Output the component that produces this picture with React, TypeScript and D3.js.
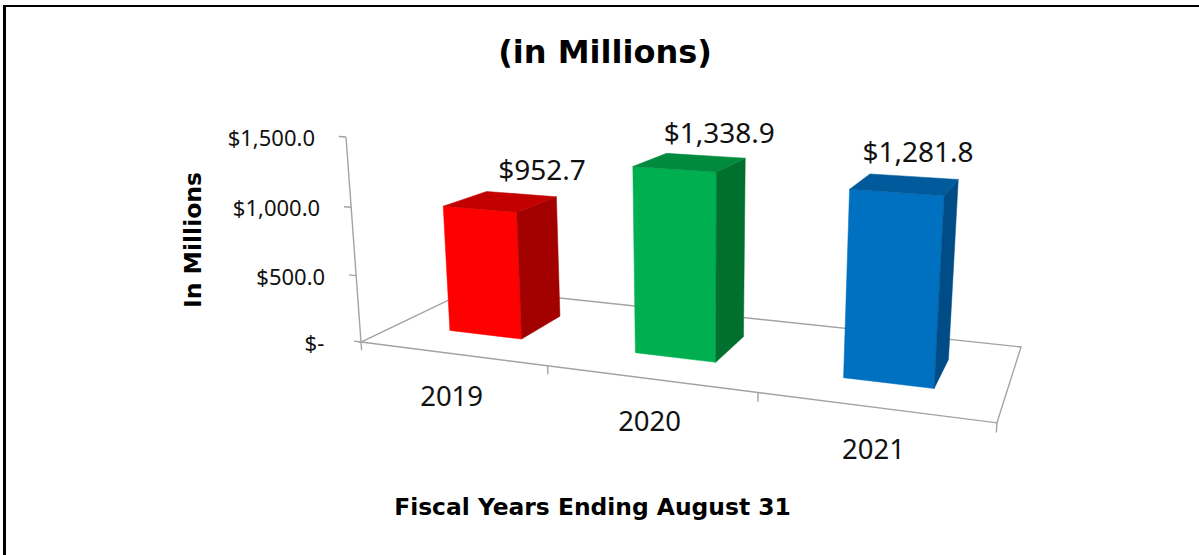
import React from "react";
import * as d3 from "d3";

const categories = ["2019", "2020", "2021"];
const values = [952.7, 1338.9, 1281.8];
const valueTicks = [0, 500, 1000, 1500];

const frontColors = ["#ff0000", "#00b050", "#0070c0"];
const topColors = ["#c20000", "#008a3e", "#005a9c"];
const sideColors = ["#a30000", "#00702f", "#004c86"];

const W = 1199;
const H = 555;
const GRAY = "#a3a3a3";

// perspective camera: image of the origin plus
// the three vanishing points (x = categories, y = value, z = depth)
const origin = [361, 342];
const vpX = [-2763, -55];
const vpY = [698, 4950];
const vpZ = [1141, -31];
const kX = -0.05638;
const kY = -0.0426;
const kZ = 0.1667;

function project(x: number, y: number, z: number): [number, number] {
  const a = kX * x;
  const b = kY * y;
  const c = kZ * z;
  const w = 1 + a + b + c;
  return [
    (a * vpX[0] + b * vpY[0] + c * vpZ[0] + origin[0]) / w,
    (a * vpX[1] + b * vpY[1] + c * vpZ[1] + origin[1]) / w,
  ];
}

const poly = (pts: [number, number][]) =>
  pts.map((p) => `${p[0].toFixed(2)},${p[1].toFixed(2)}`).join(" ");

const fmtMoney = (v: number) => (v === 0 ? "$- " : "$" + d3.format(",.1f")(v));

export default function App() {
  const n = categories.length;
  const xBand = d3
    .scaleBand<string>()
    .domain(categories)
    .range([0, n])
    .paddingInner(0.6)
    .paddingOuter(0.3);
  const yScale = d3.scaleLinear().domain([0, 1500]).range([0, 1]);
  const zFront = 0.3;
  const zBack = 0.7;

  const floor = [
    project(0, 0, 0),
    project(n, 0, 0),
    project(n, 0, 1),
    project(0, 0, 1),
  ];
  const axisBottom = project(0, 0, 0);
  const axisTop = project(0, 1, 0);

  return (
    <svg
      width={W}
      height={H}
      style={{ position: "absolute", left: 0, top: 0, background: "#fff" }}
    >
      <line x1={4.5} y1={5} x2={4.5} y2={H} stroke="#000" strokeWidth={3} />
      <line x1={3} y1={6} x2={W} y2={6} stroke="#000" strokeWidth={2} />

      <text
        x={605}
        y={63}
        textAnchor="middle"
        fontFamily="DejaVu Sans"
        fontWeight="bold"
        fontSize={32}
      >
        (in Millions)
      </text>

      {/* floor */}
      <polygon points={poly(floor)} fill="#fff" stroke={GRAY} strokeWidth={1.4} />

      {/* value axis */}
      <line
        x1={axisBottom[0]}
        y1={axisBottom[1]}
        x2={axisTop[0]}
        y2={axisTop[1]}
        stroke={GRAY}
        strokeWidth={1.4}
      />
      {valueTicks.map((v) => {
        const p = project(0, yScale(v), 0);
        const q = project(-0.04, yScale(v), 0);
        return (
          <g key={v}>
            <line x1={p[0]} y1={p[1]} x2={q[0]} y2={q[1]} stroke={GRAY} strokeWidth={1.4} />
            <text
              x={p[0] - 31}
              y={p[1] + 9}
              textAnchor="end"
              fontFamily="Noto Sans"
              fontSize={22}
              fill="#111"
              style={{ whiteSpace: "pre" }}
            >
              {fmtMoney(v)}
            </text>
          </g>
        );
      })}

      {/* category ticks */}
      {d3.range(n + 1).map((i) => {
        const p = project(i, 0, 0);
        const q = project(i, -0.042, 0);
        return <line key={i} x1={p[0]} y1={p[1]} x2={q[0]} y2={q[1]} stroke={GRAY} strokeWidth={1.4} />;
      })}

      {/* bars */}
      {categories.map((c, i) => {
        const x0 = xBand(c) as number;
        const x1 = x0 + xBand.bandwidth();
        const h = yScale(values[i]);
        const front = [
          project(x0, 0, zFront),
          project(x1, 0, zFront),
          project(x1, h, zFront),
          project(x0, h, zFront),
        ];
        const side = [
          project(x1, 0, zFront),
          project(x1, 0, zBack),
          project(x1, h, zBack),
          project(x1, h, zFront),
        ];
        const top = [
          project(x0, h, zFront),
          project(x1, h, zFront),
          project(x1, h, zBack),
          project(x0, h, zBack),
        ];
        return (
          <g key={c}>
            <polygon points={poly(front)} fill={frontColors[i]} stroke={frontColors[i]} strokeWidth={0.5} />
            <polygon points={poly(side)} fill={sideColors[i]} stroke={sideColors[i]} strokeWidth={0.5} />
            <polygon points={poly(top)} fill={topColors[i]} stroke={topColors[i]} strokeWidth={0.5} />
          </g>
        );
      })}

      {/* data labels */}
      {categories.map((c, i) => {
        const xc = (xBand(c) as number) + xBand.bandwidth() / 2;
        const p = project(xc, yScale(values[i]), 1);
        return (
          <text
            key={c}
            x={p[0] - 7}
            y={p[1] - 4}
            textAnchor="middle"
            fontFamily="Noto Sans"
            fontSize={28}
            fill="#111"
          >
            {fmtMoney(values[i])}
          </text>
        );
      })}

      {/* category labels */}
      {categories.map((c, i) => {
        const p = project(i + 0.5, 0, 0);
        return (
          <text
            key={c}
            x={p[0]}
            y={p[1] + 52}
            textAnchor="middle"
            fontFamily="Noto Sans"
            fontSize={27.5}
            fill="#111"
          >
            {c}
          </text>
        );
      })}

      <text
        transform="translate(201,240) rotate(-90)"
        textAnchor="middle"
        fontFamily="DejaVu Sans"
        fontWeight="bold"
        fontSize={23.5}
      >
        In Millions
      </text>
      <text
        x={592.5}
        y={515}
        textAnchor="middle"
        fontFamily="DejaVu Sans"
        fontWeight="bold"
        fontSize={23.4}
      >
        Fiscal Years Ending August 31
      </text>
    </svg>
  );
}
